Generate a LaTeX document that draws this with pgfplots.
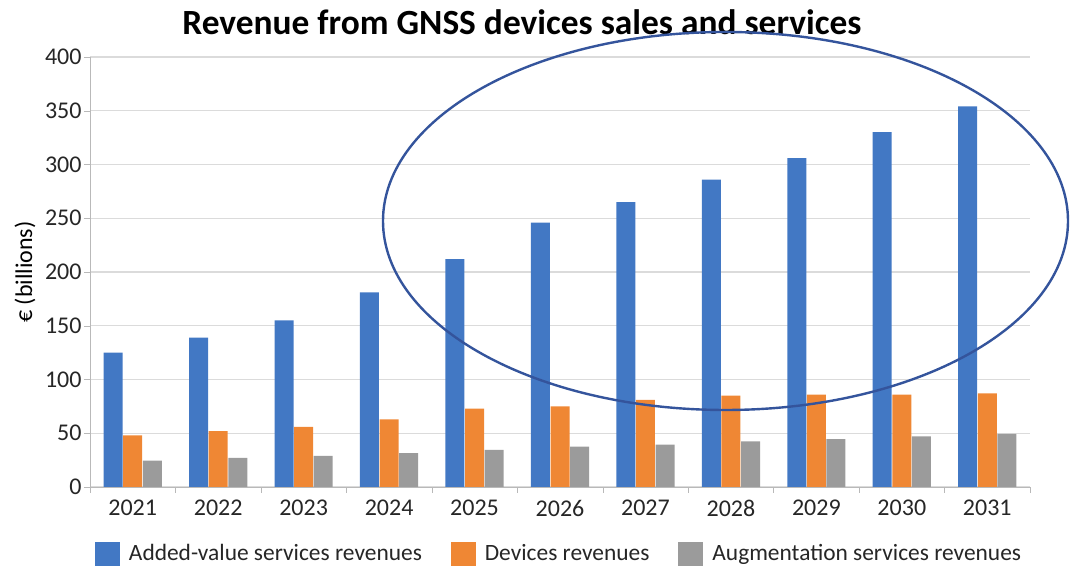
\documentclass[border=0pt]{standalone}
\usepackage{fontspec}
\setmainfont{Carlito}
\usepackage{pgfplots}
\pgfplotsset{compat=1.18}
\definecolor{cblue}{RGB}{66,120,196}
\definecolor{corange}{RGB}{239,135,52}
\definecolor{cgray}{RGB}{155,155,155}
\definecolor{cellipse}{RGB}{52,84,156}
\begin{document}
\begin{tikzpicture}
\useasboundingbox (0,0) rectangle (535.5pt,283pt);
\begin{axis}[
  at={(45pt,39.5pt)}, anchor=south west,
  scale only axis, width=470pt, height=215pt,
  xmin=-0.5, xmax=10.5, ymin=0, ymax=400,
  ybar=0.3pt, bar width=9.5pt,
  xtick={0,...,10},
  xticklabels={2021,2022,2023,2024,2025,2026,2027,2028,2029,2030,2031},
  major x tick style={draw=none},
  minor xtick={-0.5,0.5,...,10.5},
  minor x tick style={gray!55},
  minor tick length=3pt,
  ytick={0,50,...,400},
  major tick length=3pt,
  ytick style={gray!55},
  tick align=outside,
  ymajorgrids, grid style={gray!28, line width=0.6pt},
  axis x line*=bottom, axis y line*=left,
  axis line style={gray!55, -},
  tick label style={font=\fontsize{12}{14}\selectfont, text=black!85},
  yticklabel style={xshift=2.3pt},
  /pgf/number format/assume math mode=true,
  ylabel={\fontsize{12}{14}\selectfont € (billions)},
  every axis y label/.style={at={(-32.5pt,107.5pt)}, rotate=90, anchor=center},
  legend columns=3,
  legend style={at={(0.5,-0.156)}, anchor=center, draw=none,
    font=\fontsize{11.7}{14}\selectfont, text=black!85,
    /tikz/every odd column/.append style={column sep=2.5pt},
    /tikz/every even column/.append style={column sep=12.5pt}},
  legend image code/.code={\fill[#1] (0pt,-6.25pt) rectangle (12.5pt,6.25pt);},
]
\addplot[fill=cblue, draw=none] coordinates {(0,125) (1,139) (2,155) (3,181) (4,212) (5,246) (6,265) (7,286) (8,306) (9,330) (10,354)};
\addplot[fill=corange, draw=none] coordinates {(0,48) (1,52) (2,56) (3,63) (4,73) (5,75) (6,81) (7,85) (8,86) (9,86) (10,87)};
\addplot[fill=cgray, draw=none] coordinates {(0,24.5) (1,27) (2,29) (3,31.5) (4,34.5) (5,37.5) (6,39.5) (7,42.5) (8,44.5) (9,47) (10,49.5)};
\legend{Added-value services revenues, Devices revenues, Augmentation services revenues}
\end{axis}
\node[font=\fontsize{17.7}{20}\selectfont\bfseries] at (261pt,272pt) {Revenue from GNSS devices sales and services};
\draw[cellipse, line width=1.2pt] (362.75pt,172.5pt) ellipse [x radius=171.25pt, y radius=94.5pt];
\end{tikzpicture}
\end{document}
